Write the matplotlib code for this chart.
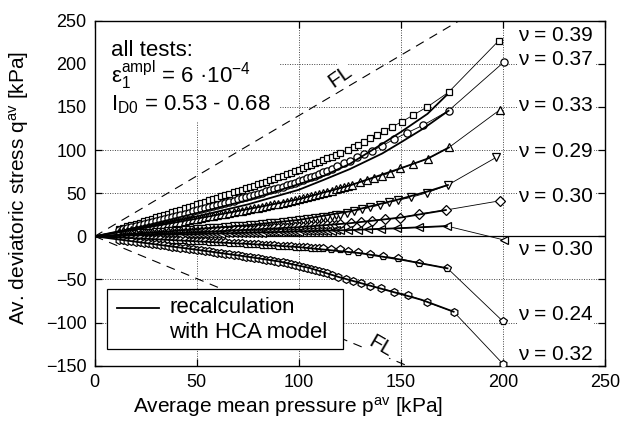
import matplotlib
matplotlib.use('Agg')
import matplotlib.pyplot as plt
from matplotlib.patches import Rectangle

plt.rcParams['font.family'] = ['Liberation Sans', 'DejaVu Sans']
plt.rcParams['mathtext.fontset'] = 'custom'
plt.rcParams['mathtext.rm'] = 'Liberation Sans'
plt.rcParams['mathtext.it'] = 'Liberation Sans:italic'

# --- Dados (p^av, q^av em kPa) ---
p_grid = [12, 14, 16, 18, 20, 22, 24, 26, 28, 30, 32, 34, 36, 38, 40, 42, 44, 46, 48, 50,
          52, 54, 56, 58, 60, 62, 64, 66, 68, 70, 72, 74, 76, 78, 80, 82, 84, 86, 88, 90,
          92, 94, 96, 98, 100, 102, 104, 106, 108, 110, 112, 114, 116, 118, 120, 122, 124, 126]

# nu = 0.39 (quadrados)
p_sq = p_grid[:55] + [124.3, 126.8, 129.2, 131.9, 135, 138.2, 141.7, 145.7, 150.5, 156, 162.9, 173.3, 198]
q_sq = [8.6, 10.1, 11.6, 13.0, 14.5, 16.0, 17.4, 18.9, 20.4, 21.9, 23.4, 24.9, 26.4, 27.9, 29.4,
        30.9, 32.4, 33.9, 35.4, 37.0, 38.5, 40.0, 41.6, 43.1, 44.6, 46.2, 47.7, 49.3, 50.9, 52.4,
        54.0, 55.6, 57.2, 58.7, 60.3, 61.9, 63.5, 65.1, 66.7, 68.3, 70.1, 71.9, 73.7, 75.6, 77.3,
        79.2, 81.0, 82.9, 84.7, 86.6, 88.5, 90.4, 92.3, 94.2, 96.1,
        100, 103, 105.9, 109.7, 113.6, 117.4, 122, 127, 132.9, 140.6, 150, 167, 227]

# nu = 0.37 (círculos)
p_ci = p_grid[:53] + [118.6, 121.9, 125, 128.4, 132, 136, 140.8, 146.5, 153, 161, 173.3, 200.6]
q_ci = [7.1, 8.3, 9.5, 10.7, 11.8, 13.0, 14.2, 15.4, 16.7, 17.9, 19.1, 20.3, 21.5, 22.7, 23.9,
        25.2, 26.4, 27.6, 28.8, 30.1, 31.3, 32.5, 33.8, 35.0, 36.2, 37.5, 38.8, 40.1, 41.4, 42.8,
        44.1, 45.4, 46.7, 48.0, 49.4, 50.8, 52.1, 53.5, 54.8, 56.3, 57.7, 59.1, 60.7, 62.2, 63.8,
        65.4, 67.1, 68.8, 70.5, 72.3, 74.1, 76.0, 78.3,
        81.5, 84.6, 87.7, 91.5, 95.4, 99.3, 105, 112.4, 120, 129, 145.6, 202.4]

# nu = 0.33 (triângulos para cima)
p_ut = p_grid[:58] + [130, 133.6, 137, 140.7, 144.8, 149.7, 156, 163.2, 173.5, 198.3]
q_ut = [4.8, 5.6, 6.4, 7.2, 8.0, 8.8, 9.7, 10.5, 11.3, 12.1, 13.0, 13.8, 14.6, 15.4, 16.3,
        17.1, 18.0, 18.8, 19.6, 20.5, 21.3, 22.1, 23.0, 23.8, 24.7, 25.5, 26.4, 27.3, 28.2, 29.0,
        29.9, 30.7, 31.6, 32.4, 33.4, 34.2, 35.1, 36.0, 36.9, 37.7, 38.6, 39.7, 40.8, 41.9, 43.2,
        44.4, 45.6, 46.9, 48.1, 49.3, 50.6, 51.9, 53.1, 54.5, 55.8, 57.1, 58.5, 59.9,
        62.6, 65.3, 68, 70.5, 73.5, 78.8, 83.8, 90, 103, 146.4]

# nu = 0.29 (triângulos para baixo)
p_dt = p_grid[:55] + [123.5, 127, 130.9, 135, 139.5, 144, 148.8, 155, 162.7, 173, 196.7]
q_dt = [1.8, 2.1, 2.4, 2.7, 3.0, 3.4, 3.7, 4.0, 4.3, 4.7, 5.0, 5.3, 5.7, 6.0, 6.4,
        6.7, 7.0, 7.4, 7.7, 8.1, 8.4, 8.8, 9.2, 9.5, 9.9, 10.2, 10.6, 11.0, 11.4, 11.8,
        12.1, 12.5, 12.9, 13.3, 13.7, 14.1, 14.4, 14.9, 15.2, 15.7, 16.1, 16.5, 17.2, 17.7, 18.4,
        19.0, 19.7, 20.2, 21.0, 21.6, 22.3, 22.9, 23.7, 24.3, 25.1,
        26.7, 29.3, 31.3, 33.6, 36.3, 39.4, 42, 45.2, 50.5, 59.5, 91.6]

# nu = 0.30 (losangos)
p_di = p_grid[:55] + [125.6, 130.4, 135.8, 142, 149.7, 159, 172, 198.7]
q_di = [1.1, 1.3, 1.5, 1.6, 1.8, 2.0, 2.2, 2.4, 2.6, 2.8, 3.0, 3.2, 3.4, 3.6, 3.8,
        4.0, 4.2, 4.4, 4.6, 4.8, 5.0, 5.2, 5.5, 5.7, 5.9, 6.1, 6.3, 6.5, 6.8, 7.0,
        7.2, 7.5, 7.7, 7.9, 8.2, 8.4, 8.6, 8.9, 9.1, 9.4, 9.6, 9.8, 10.1, 10.4, 10.7,
        11.0, 11.3, 11.7, 12.0, 12.3, 12.7, 13.0, 13.3, 13.7, 14.0,
        15.4, 16.2, 18, 20, 21.6, 25.9, 30.5, 41.3]

# nu = 0.30 (triângulos para a esquerda)
p_lt = p_grid[:55] + [124.3, 128.9, 133.8, 140.2, 148, 158.6, 172.5, 200.6]
q_lt = [0.6, 0.7, 0.8, 0.9, 1.0, 1.1, 1.2, 1.3, 1.4, 1.5, 1.6, 1.7, 1.8, 1.9, 2.0,
        2.1, 2.2, 2.4, 2.5, 2.6, 2.7, 2.8, 2.9, 3.0, 3.1, 3.2, 3.3, 3.5, 3.6, 3.7,
        3.8, 3.9, 4.0, 4.1, 4.3, 4.4, 4.5, 4.6, 4.7, 4.9, 5.0, 5.1, 5.2, 5.4, 5.5,
        5.6, 5.8, 5.9, 6.1, 6.2, 6.4, 6.5, 6.7, 6.8, 7.0,
        7.3, 7.3, 8.1, 8.8, 9.3, 10.4, 11.9, -4.3]

# nu = 0.24 (pentágonos)
p_pe = p_grid[2:51] + [115.8, 119.9, 124.3, 129, 134.6, 141, 148.5, 158.6, 172.8, 199.8]
q_pe = [-1.8, -2.0, -2.2, -2.4, -2.6, -2.9, -3.1, -3.3, -3.5, -3.7, -4.0, -4.2, -4.4, -4.6,
        -4.8, -5.1, -5.3, -5.5, -5.7, -5.9, -6.2, -6.4, -6.6, -6.9, -7.1, -7.4, -7.6, -7.9,
        -8.1, -8.4, -8.7, -8.9, -9.2, -9.5, -9.8, -10.1, -10.4, -10.7, -11.0, -11.3, -11.6,
        -11.9, -12.2, -12.5, -12.8, -13.1, -13.4, -13.6, -13.9,
        -14.4, -15.1, -17, -18.6, -20.5, -22.8, -25.5, -30.6, -37.1, -98.2]

# nu = 0.32 (hexágonos)
p_hx = p_grid[:53] + [119.4, 123, 126.5, 130.5, 135, 140.2, 146.4, 153.4, 162.7, 175.8, 200]
q_hx = [-3.7, -4.3, -5.0, -5.6, -6.2, -6.8, -7.4, -8.1, -8.7, -9.3, -9.9, -10.5, -11.2, -11.8,
        -12.4, -13.0, -13.6, -14.3, -14.9, -15.5, -16.2, -16.9, -17.5, -18.2, -18.8, -19.4,
        -20.1, -20.7, -21.4, -22.1, -22.7, -23.4, -24.1, -24.8, -25.6, -26.3, -27.0, -27.8,
        -28.6, -29.4, -30.3, -31.2, -32.2, -33.2, -34.2, -35.0, -36.2, -37.4, -38.7, -40.1,
        -41.5, -43.0, -44.6,
        -47.5, -49.5, -51.8, -54.5, -57.6, -60.3, -64.2, -68, -76.2, -87.4, -148]

# --- Recálculo com o modelo HCA ---
mp_sq = [0, 25, 50, 75, 100, 112, 125, 140, 150, 163, 172.5]
mq_sq = [0, 12.5, 27, 42, 60.5, 70, 84, 106, 121, 142, 164]
mp_ci = [0, 25, 50, 75, 100, 112, 125, 140.8, 150, 161, 173.3]
mq_ci = [0, 11, 23, 37, 54, 65.3, 78, 96, 109, 125, 145.6]
mp_ut = [0, 25, 50, 75, 100, 125, 150, 163, 173.5]
mq_ut = [0, 10, 20.5, 31.5, 43, 59, 79, 90, 103]
mp_dt = [0, 25, 50, 75, 100, 125, 150, 163, 173]
mq_dt = [0, 3.9, 8.3, 13, 19, 29, 43.5, 52, 59.5]
mp_di = [0, 50, 100, 125, 150, 172]
mq_di = [0, 4.6, 10.6, 15.2, 21.8, 30.5]
mp_lt = [0, 50, 100, 125, 150, 172.5]
mq_lt = [0, 2.6, 5.6, 7.3, 9.5, 11.9]
mp_pe = [0, 25, 50, 75, 100, 130, 150, 172.8]
mq_pe = [0, -2.8, -5.8, -8.8, -12.5, -19.5, -27, -37.1]
mp_hx = [0, 25, 50, 75, 90, 105, 120, 140, 160, 175.8]
mq_hx = [0, -7.8, -15.6, -23.7, -29, -36.5, -47.5, -60.5, -73.5, -87.4]

# Linhas de ruptura (FL): inclinações M_c e M_e
M_c = 1.4
M_e = -0.98

nu_labels = ['ν = 0.39', 'ν = 0.37', 'ν = 0.33', 'ν = 0.29', 'ν = 0.30', 'ν = 0.30', 'ν = 0.24', 'ν = 0.32']
nu_q = [233, 205, 152, 98, 46, -15, -91, -136.5]

series = [
    (p_sq, q_sq, 's', 5.0),
    (p_ci, q_ci, 'o', 5.2),
    (p_ut, q_ut, '^', 5.6),
    (p_dt, q_dt, 'v', 5.6),
    (p_di, q_di, 'D', 4.6),
    (p_lt, q_lt, '<', 5.6),
    (p_pe, q_pe, 'p', 5.6),
    (p_hx, q_hx, 'h', 5.6),
]
modelos = [(mp_sq, mq_sq), (mp_ci, mq_ci), (mp_ut, mq_ut), (mp_dt, mq_dt),
           (mp_di, mq_di), (mp_lt, mq_lt), (mp_pe, mq_pe), (mp_hx, mq_hx)]

fig = plt.figure(figsize=(6.29, 4.30), dpi=100)
ax = fig.add_axes([0.1506, 0.1495, 0.8114, 0.8024])

ax.axhline(0, color='black', linewidth=0.9, zorder=2)
ax.axline((0, 0), slope=M_c, color='black', linewidth=0.8, dashes=(8, 6), zorder=2)
ax.axline((0, 0), slope=M_e, color='black', linewidth=0.8, dashes=(8, 6), zorder=2)

for p, q, mk, ms in series:
    ax.plot(p, q, color='black', linewidth=0.6, marker=mk, markersize=ms,
            markerfacecolor='white', markeredgecolor='black', markeredgewidth=0.9, zorder=3)

for p, q in modelos:
    ax.plot(p, q, color='black', linewidth=1.3, zorder=4)

ax.set_xlim(0, 250)
ax.set_ylim(-150, 250)
ax.set_xticks([0, 50, 100, 150, 200, 250])
ax.set_yticks([-150, -100, -50, 0, 50, 100, 150, 200, 250])
ax.grid(True, linestyle=(0, (1, 1.5)), color='#444444', linewidth=0.7, zorder=1)
ax.set_axisbelow(True)
ax.tick_params(direction='in', top=True, right=True, length=5, width=0.9, labelsize=13, pad=6)
for s in ax.spines.values():
    s.set_linewidth(1.0)

ax.set_xlabel('Average mean pressure p$^{\\mathrm{av}}$ [kPa]', fontsize=15)
ax.xaxis.set_label_coords(0.378, -0.085)
ax.set_ylabel('Av. deviatoric stress q$^{\\mathrm{av}}$ [kPa]', fontsize=15)
ax.yaxis.set_label_coords(-0.125, 0.515)

# fundo branco atrás do bloco de texto (esconde a grade)
ax.add_patch(Rectangle((0, 134), 90.5, 114, facecolor='white', edgecolor='none', zorder=1.5))
ax.text(7.8, 209, 'all tests:', fontsize=16, va='baseline', zorder=5)
ax.text(7.8, 177.7, 'ε$_1^{\\mathrm{ampl}}$ = 6 ·10$^{\\mathrm{-4}}$', fontsize=16, va='baseline', zorder=5)
ax.text(7.8, 146.4, 'I$_{\\mathrm{D0}}$ = 0.53 - 0.68', fontsize=16, va='baseline', zorder=5)

rotulos = []
for lab, y in zip(nu_labels, nu_q):
    rotulos.append(ax.text(207.5, y, lab, fontsize=14, family='Liberation Sans', va='center', ha='left',
                           bbox=dict(facecolor='white', edgecolor='none', pad=1), zorder=5))

# ajusta o tamanho para a largura do original (~75 px)
renderer = fig.canvas.get_renderer()
largura = rotulos[0].get_window_extent(renderer).width
fs_nu = max(11.0, min(15.0, 14 * 75.0 / largura))
for t in rotulos:
    t.set_fontsize(fs_nu)

ax.text(120, 185, 'FL', fontsize=15, rotation=35, ha='center', va='center',
        bbox=dict(facecolor='white', edgecolor='none', pad=1), zorder=5)
ax.text(140, -127, 'FL', fontsize=15, rotation=-30, ha='center', va='center',
        bbox=dict(facecolor='white', edgecolor='none', pad=1), zorder=5)

# legenda desenhada à mão
ax.add_patch(Rectangle((0.0247, 0.048), 0.461, 0.1735, transform=ax.transAxes,
                       facecolor='white', edgecolor='black', linewidth=0.9, zorder=6))
ax.plot([0.043, 0.126], [0.167, 0.167], transform=ax.transAxes, color='black', linewidth=1.3, zorder=7)
ax.text(0.1456, 0.154, 'recalculation', transform=ax.transAxes, fontsize=16, va='baseline', zorder=7)
ax.text(0.1456, 0.080, 'with HCA model', transform=ax.transAxes, fontsize=16, va='baseline', zorder=7)

fig.savefig('out.png', dpi=100)
